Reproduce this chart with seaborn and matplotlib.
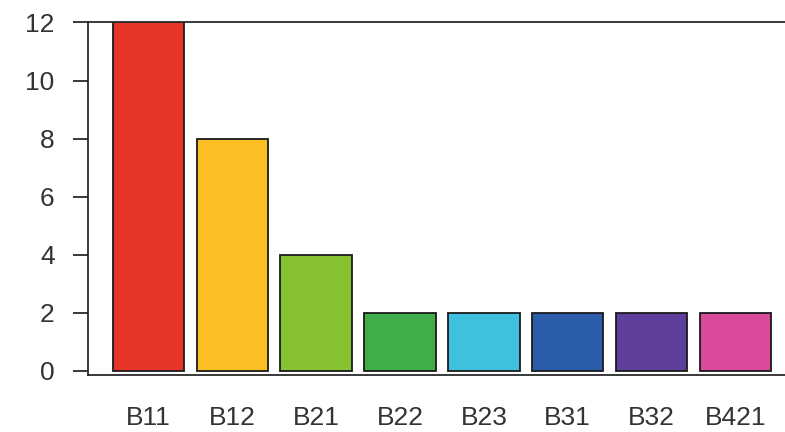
import matplotlib
matplotlib.use("Agg")
import matplotlib.pyplot as plt
import pandas as pd
import seaborn as sns

categories = ["B11", "B12", "B21", "B22", "B23", "B31", "B32", "B421"]
counts = [12, 8, 4, 2, 2, 2, 2, 2]
colors = ["#E8352A", "#FBBF24", "#86C232", "#3FAE49", "#3EC1DF", "#2C5DAA", "#5E3F9B", "#DA4A9C"]

df = pd.DataFrame({"cat": categories, "n": counts})

sns.set_style("white")
plt.rcParams["font.family"] = ["Liberation Sans", "DejaVu Sans"]

fig = plt.figure(figsize=(7.85, 4.32), dpi=100)
ax = fig.add_axes([0.112, 0.132, 0.888, 0.816])

sns.barplot(data=df, x="cat", y="n", hue="cat", palette=colors, legend=False,
            width=0.85, edgecolor="#1a1a1a", linewidth=1.3, saturation=1, ax=ax)

ax.set_xlim(-0.72, 7.59)
ax.set_ylim(-0.14, 12)
ax.set_yticks([0, 2, 4, 6, 8, 10, 12])
ax.set_xlabel("")
ax.set_ylabel("")

for side in ["left", "bottom", "top"]:
    ax.spines[side].set_visible(True)
    ax.spines[side].set_color("#2a2a2a")
    ax.spines[side].set_linewidth(1.3)
ax.spines["right"].set_visible(False)

ax.tick_params(axis="y", length=11, width=1.3, color="#2a2a2a", pad=13,
               labelsize=19, labelcolor="#333333", left=True)
ax.tick_params(axis="x", length=0, pad=22, labelsize=19, labelcolor="#333333")

fig.savefig("out.png", dpi=100)
